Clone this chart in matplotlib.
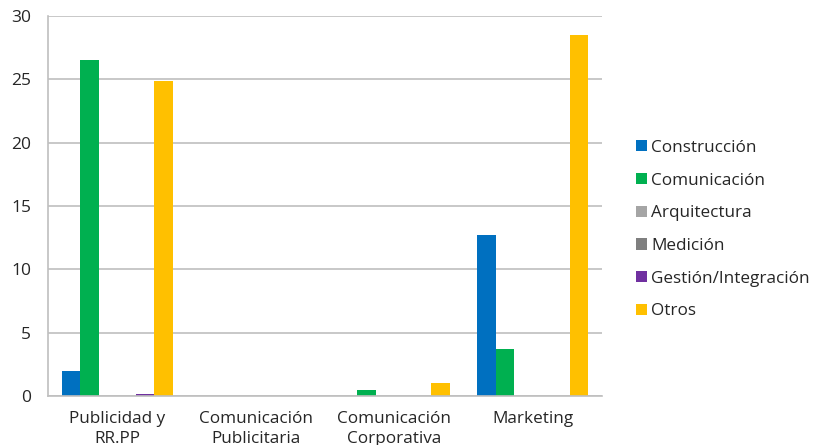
import matplotlib
matplotlib.use("Agg")
import matplotlib.pyplot as plt
import numpy as np

plt.rcParams['font.family'] = ['Open Sans', 'DejaVu Sans']

categorias = ["Publicidad y\nRR.PP", "Comunicación\nPublicitaria",
              "Comunicación\nCorporativa", "Marketing"]
series = ["Construcción", "Comunicación", "Arquitectura", "Medición",
          "Gestión/Integración", "Otros"]
construccion = [2.0, 0, 0, 12.7]
comunicacion = [26.5, 0, 0.5, 3.7]
arquitectura = [0, 0, 0, 0]
medicion = [0, 0, 0, 0]
gestion = [0.2, 0, 0, 0]
otros = [24.9, 0, 1.0, 28.5]
valores = [construccion, comunicacion, arquitectura, medicion, gestion, otros]
colores = ["#0070C0", "#00B050", "#A5A5A5", "#7F7F7F", "#7030A0", "#FFC000"]

fig = plt.figure(figsize=(8.13, 4.45), dpi=100)
ax = fig.add_axes([0.059, 0.110, 0.6815, 0.854])

x = np.arange(len(categorias))
w = 0.8 / len(series)
for i, (nombre, vals, c) in enumerate(zip(series, valores, colores)):
    ax.bar(x - 0.4 + w * (i + 0.5), vals, width=w, color=c, label=nombre)

ax.set_xlim(-0.5, len(categorias) - 0.5)
ax.set_ylim(0, 30)
ax.set_yticks(range(0, 31, 5))
ax.set_xticks(x)
ax.set_xticklabels(categorias, fontsize=12.3, color="#262626", linespacing=1.3)
ax.tick_params(axis='y', labelsize=12.5, colors="#262626", length=0, pad=12)
ax.tick_params(axis='x', length=0, pad=11)
ax.yaxis.grid(True, color="#BFBFBF", linewidth=1.2)
ax.set_axisbelow(True)
for s in ["top", "right"]:
    ax.spines[s].set_visible(False)
ax.spines["left"].set_color("#BFBFBF")
ax.spines["bottom"].set_color("#BFBFBF")
ax.spines["left"].set_linewidth(1.2)
ax.spines["bottom"].set_linewidth(1.2)

fig.legend(loc="center left", bbox_to_anchor=(0.763, 0.484), frameon=False,
           fontsize=12.3, labelspacing=0.98, handlelength=0.65, handleheight=0.65,
           handletextpad=0.25, labelcolor="#262626")

fig.savefig("out.png", dpi=100)
